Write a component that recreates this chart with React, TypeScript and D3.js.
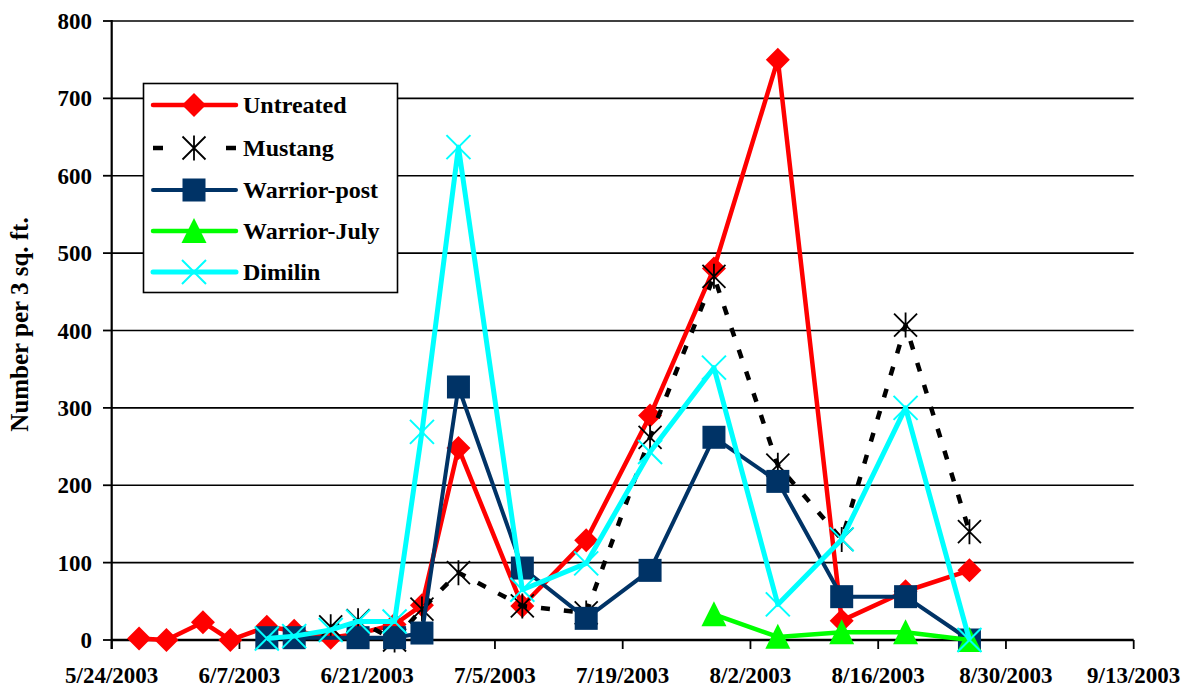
import * as d3 from 'd3';

// sample dates and counts
const sampleDates = [
  '5/27/2003', '5/30/2003', '6/3/2003', '6/6/2003', '6/10/2003', '6/13/2003', '6/17/2003',
  '6/20/2003', '6/24/2003', '6/27/2003', '7/1/2003', '7/8/2003', '7/15/2003', '7/22/2003',
  '7/29/2003', '8/5/2003', '8/12/2003', '8/19/2003', '8/26/2003',
];
const untreated = [2, 0, 23, 0, 17, 12, 3, 8, 20, 45, 248, 44, 129, 290, 480, 750, 25, 63, 90];
const mustang = [null, null, null, null, null, null, 17, 25, 0, 40, 87, 44, 35, 262, 470, 226, 130, 407, 140];
const warriorPost = [null, null, null, null, 3, 3, null, 3, 3, 9, 327, 93, 28, 90, 262, 205, 56, 56, 0];
const warriorJuly = [null, null, null, null, null, null, null, null, null, null, null, null, null, null, 33, 4, 10, 10, 0];
const dimilin = [null, null, null, null, 2, 5, 13, 24, 24, 269, 637, 65, 99, 243, 352, 46, 130, 300, 0];

const xTickLabels = [
  '5/24/2003', '6/7/2003', '6/21/2003', '7/5/2003', '7/19/2003', '8/2/2003', '8/16/2003', '8/30/2003', '9/13/2003',
];
const yTicks = [0, 100, 200, 300, 400, 500, 600, 700, 800];

type Marker = 'diamond' | 'star' | 'square' | 'triangle' | 'x';
interface Series {
  name: string;
  values: (number | null)[];
  color: string;
  width: number;
  dash?: string;
  marker: Marker;
}

const series: Series[] = [
  { name: 'Untreated', values: untreated, color: '#ff0000', width: 4.5, marker: 'diamond' },
  { name: 'Mustang', values: mustang, color: '#000000', width: 4.5, dash: '9 14', marker: 'star' },
  { name: 'Warrior-post', values: warriorPost, color: '#003366', width: 4, marker: 'square' },
  { name: 'Warrior-July', values: warriorJuly, color: '#00ff00', width: 4.5, marker: 'triangle' },
  { name: 'Dimilin', values: dimilin, color: '#00ffff', width: 5, marker: 'x' },
];

const W = 1184;
const H = 692;
const FONT = "'Liberation Serif', Tinos, 'Times New Roman', Times, 'DejaVu Serif', serif";
const parse = d3.timeParse('%m/%d/%Y');

function MarkerShape({ type, cx, cy, color }: { type: Marker; cx: number; cy: number; color: string }) {
  switch (type) {
    case 'diamond': {
      const r = 12;
      return <path d={`M${cx},${cy - r}L${cx + r},${cy}L${cx},${cy + r}L${cx - r},${cy}Z`} fill={color} />;
    }
    case 'square': {
      const r = 11.5;
      return <rect x={cx - r} y={cy - r} width={r * 2} height={r * 2} fill={color} />;
    }
    case 'triangle': {
      const r = 12.5;
      return <path d={`M${cx},${cy - r * 1.05}L${cx + r},${cy + r * 0.95}L${cx - r},${cy + r * 0.95}Z`} fill={color} />;
    }
    case 'x': {
      const r = 12;
      return (
        <path
          d={`M${cx - r},${cy - r}L${cx + r},${cy + r}M${cx - r},${cy + r}L${cx + r},${cy - r}`}
          stroke={color}
          strokeWidth={2}
          fill="none"
        />
      );
    }
    case 'star': {
      const r = 11.5;
      return (
        <path
          d={`M${cx - r},${cy - r}L${cx + r},${cy + r}M${cx - r},${cy + r}L${cx + r},${cy - r}M${cx},${cy - r - 1}L${cx},${cy + r + 1}`}
          stroke={color}
          strokeWidth={1.8}
          fill="none"
        />
      );
    }
  }
}

export default function App() {
  const x = d3
    .scaleTime()
    .domain([parse(xTickLabels[0])!, parse(xTickLabels[xTickLabels.length - 1])!])
    .range([111.7, 1133.7]);
  const y = d3.scaleLinear().domain([0, 800]).range([640, 21]);
  const dates = sampleDates.map((s) => parse(s)!);

  const line = d3
    .line<{ d: Date; v: number }>()
    .x((p) => x(p.d))
    .y((p) => y(p.v));

  const legend = { x: 143.5, y: 83.5, w: 254, h: 209, rowY: [105, 148, 190, 231, 272] };

  return (
    <svg
      width={W}
      height={H}
      style={{ position: 'absolute', left: 0, top: 0, background: '#fff', fontFamily: FONT, fontWeight: 700 }}
    >
      <rect width={W} height={H} fill="#fff" />

      {/* gridlines */}
      {yTicks.slice(1).map((t) => (
        <line key={t} x1={111.7} x2={1133.7} y1={y(t)} y2={y(t)} stroke="#000" strokeWidth={1.6} />
      ))}

      {/* y axis */}
      <line x1={111.7} x2={111.7} y1={y(800) - 1} y2={649} stroke="#000" strokeWidth={2.2} />
      {yTicks.map((t) => (
        <g key={t}>
          <line x1={103} x2={111.7} y1={y(t)} y2={y(t)} stroke="#000" strokeWidth={1.8} />
          <text x={92} y={y(t)} dy="0.35em" textAnchor="end" fontSize={23} fill="#000">
            {t}
          </text>
        </g>
      ))}

      {/* x axis */}
      <line x1={111.7} x2={1133.7} y1={640} y2={640} stroke="#000" strokeWidth={2.4} />
      {xTickLabels.map((lab) => {
        const tx = x(parse(lab)!);
        return (
          <g key={lab}>
            <line x1={tx} x2={tx} y1={640} y2={649} stroke="#000" strokeWidth={1.8} />
            <text x={tx} y={683} textAnchor="middle" fontSize={23} fill="#000">
              {lab}
            </text>
          </g>
        );
      })}

      <text
        transform={`translate(28,${y(400) - 6}) rotate(-90)`}
        textAnchor="middle"
        fontSize={25}
        fill="#000"
      >
        Number per 3 sq. ft.
      </text>

      {/* series */}
      {series.map((s) => {
        const pts = s.values
          .map((v, i) => (v == null ? null : { d: dates[i], v }))
          .filter((p): p is { d: Date; v: number } => p != null);
        return (
          <g key={s.name}>
            <path
              d={line(pts) ?? ''}
              fill="none"
              stroke={s.color}
              strokeWidth={s.width}
              strokeDasharray={s.dash}
              strokeLinejoin="round"
            />
            {pts.map((p, i) => (
              <MarkerShape key={i} type={s.marker} cx={x(p.d)} cy={y(p.v)} color={s.color} />
            ))}
          </g>
        );
      })}

      {/* legend */}
      <rect x={legend.x} y={legend.y} width={legend.w} height={legend.h} fill="#fff" stroke="#000" strokeWidth={1.6} />
      {series.map((s, i) => {
        const ly = legend.rowY[i];
        return (
          <g key={s.name}>
            <line
              x1={153}
              x2={236}
              y1={ly}
              y2={ly}
              stroke={s.color}
              strokeWidth={s.width}
              strokeDasharray={s.dash ? '10 63' : undefined}
              strokeLinecap={s.dash ? 'butt' : 'round'}
            />
            <MarkerShape type={s.marker} cx={194} cy={ly} color={s.color} />
            <text x={243} y={ly} dy="0.35em" fontSize={24} fill="#000">
              {s.name}
            </text>
          </g>
        );
      })}
    </svg>
  );
}
